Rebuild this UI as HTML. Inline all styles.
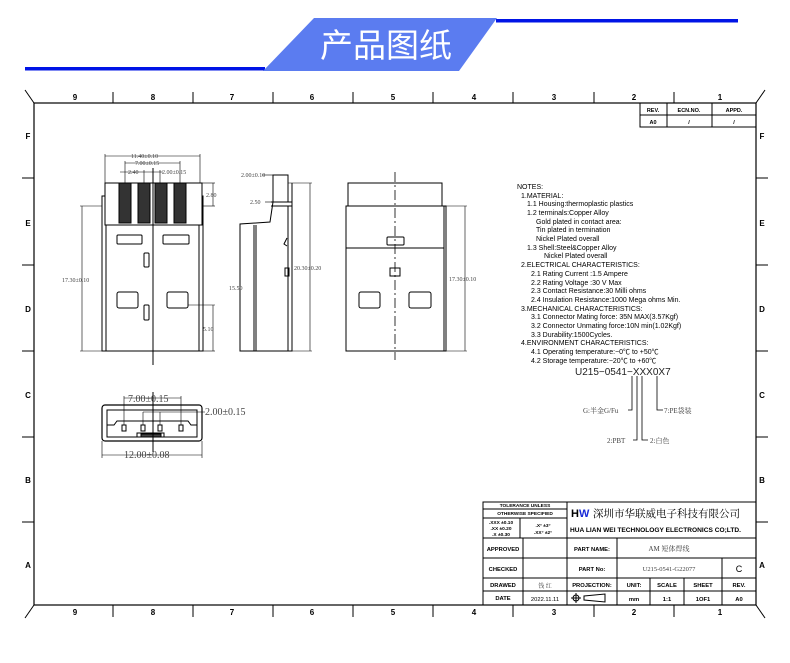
<!DOCTYPE html>
<html><head><meta charset="utf-8"><style>
body{margin:0;background:#fff;width:790px;height:663px;overflow:hidden}
svg{display:block}
text{font-family:"Liberation Sans","Noto Sans CJK SC",sans-serif;fill:#000}
.s{font-family:"Liberation Serif","Noto Serif CJK SC",serif;fill:#444}
</style></head><body>
<svg width="790" height="663" viewBox="0 0 790 663" xmlns="http://www.w3.org/2000/svg">
<rect x="25" y="67" width="240" height="3.5" fill="#0014e6"/>
<rect x="496" y="19" width="242" height="3.5" fill="#0014e6"/>
<polygon points="263,71 314,18 497,18 459,71" fill="#5b7cf0"/>
<text x="386" y="57" font-size="33" text-anchor="middle" style="fill:#fff;font-family:'Noto Sans CJK SC',sans-serif">产品图纸</text>

<g stroke="#000" fill="none" stroke-width="1">
<rect x="34" y="103" width="722" height="502" stroke-width="1.2"/>
<line x1="25" y1="90" x2="34" y2="103"/><line x1="765" y1="90" x2="756" y2="103"/>
<line x1="25" y1="618" x2="34" y2="605"/><line x1="765" y1="618" x2="756" y2="605"/>
<g stroke-width="1">
<line x1="113" y1="92" x2="113" y2="103"/><line x1="193" y1="92" x2="193" y2="103"/><line x1="273" y1="92" x2="273" y2="103"/><line x1="353" y1="92" x2="353" y2="103"/><line x1="433" y1="92" x2="433" y2="103"/><line x1="513" y1="92" x2="513" y2="103"/><line x1="594" y1="92" x2="594" y2="103"/><line x1="674" y1="92" x2="674" y2="103"/>
<line x1="113" y1="605" x2="113" y2="617"/><line x1="193" y1="605" x2="193" y2="617"/><line x1="273" y1="605" x2="273" y2="617"/><line x1="353" y1="605" x2="353" y2="617"/><line x1="433" y1="605" x2="433" y2="617"/><line x1="513" y1="605" x2="513" y2="617"/><line x1="594" y1="605" x2="594" y2="617"/><line x1="674" y1="605" x2="674" y2="617"/>
<line x1="22" y1="178" x2="34" y2="178"/><line x1="22" y1="265" x2="34" y2="265"/><line x1="22" y1="351" x2="34" y2="351"/><line x1="22" y1="437" x2="34" y2="437"/><line x1="22" y1="522" x2="34" y2="522"/>
<line x1="756" y1="178" x2="768" y2="178"/><line x1="756" y1="265" x2="768" y2="265"/><line x1="756" y1="351" x2="768" y2="351"/><line x1="756" y1="437" x2="768" y2="437"/><line x1="756" y1="522" x2="768" y2="522"/>
</g>
<rect x="640" y="103" width="116" height="24"/><line x1="640" y1="115" x2="756" y2="115"/>
<line x1="667" y1="103" x2="667" y2="127"/><line x1="712" y1="103" x2="712" y2="127"/>

<rect x="105" y="183" width="97" height="42"/>
<path d="M105 196 H102 V351 H203 V196 H202"/>
<line x1="106" y1="225" x2="106" y2="351"/><line x1="199" y1="225" x2="199" y2="351"/>
<line x1="153" y1="168" x2="153" y2="365"/>
<rect x="119" y="183" width="12" height="40" fill="#333"/><rect x="138" y="183" width="12" height="40" fill="#333"/>
<rect x="155" y="183" width="12" height="40" fill="#333"/><rect x="174" y="183" width="12" height="40" fill="#333"/>
<rect x="117" y="235" width="25" height="9" rx="1"/><rect x="163" y="235" width="26" height="9" rx="1"/>
<rect x="117" y="292" width="21" height="16" rx="2"/><rect x="167" y="292" width="21" height="16" rx="2"/>
<rect x="144" y="253" width="5" height="14" rx="1"/><rect x="144" y="305" width="5" height="15" rx="1"/>
<g stroke-width="0.6">
<line x1="105" y1="156" x2="200" y2="156"/><line x1="105" y1="154" x2="105" y2="183"/><line x1="200" y1="154" x2="200" y2="183"/>
<line x1="125" y1="163" x2="180" y2="163"/><line x1="125" y1="161" x2="125" y2="183"/><line x1="180" y1="161" x2="180" y2="183"/>
<line x1="120" y1="172" x2="163" y2="172"/><line x1="144" y1="170" x2="144" y2="183"/><line x1="160" y1="170" x2="160" y2="183"/>
<line x1="202" y1="183" x2="215" y2="183"/><line x1="202" y1="206" x2="215" y2="206"/><line x1="213" y1="183" x2="213" y2="206"/>
<line x1="80" y1="206" x2="102" y2="206"/><line x1="82" y1="206" x2="82" y2="351"/><line x1="80" y1="351" x2="102" y2="351"/>
<line x1="188" y1="305" x2="215" y2="305"/><line x1="213" y1="305" x2="213" y2="351"/><line x1="203" y1="351" x2="215" y2="351"/>
</g>

<rect x="273" y="175" width="15" height="27"/>
<path d="M273 202 L270 222 L240 224 V351 H292 V183"/>
<line x1="271" y1="202" x2="292" y2="202"/><line x1="271" y1="206" x2="292" y2="206"/>
<line x1="254" y1="225" x2="254" y2="351"/><line x1="256" y1="225" x2="256" y2="351"/>
<line x1="288" y1="206" x2="288" y2="351"/>
<path d="M287 238 L284 244 L287 246" /><rect x="285" y="268" width="4" height="8"/>
<g stroke-width="0.6">
<line x1="262" y1="175" x2="273" y2="175"/><line x1="265" y1="202" x2="273" y2="202"/>
<line x1="288" y1="183" x2="312" y2="183"/><line x1="310" y1="183" x2="310" y2="351"/><line x1="292" y1="351" x2="312" y2="351"/>
<line x1="240" y1="225" x2="240" y2="351"/>
</g>

<rect x="348" y="183" width="94" height="23"/>
<rect x="346" y="206" width="100" height="145"/><line x1="444" y1="206" x2="444" y2="351"/>
<line x1="346" y1="248" x2="444" y2="248"/>
<line x1="395" y1="172" x2="395" y2="360" stroke-dasharray="10,3,2,3" stroke-width="0.8"/>
<rect x="387" y="237" width="17" height="8" rx="1"/><rect x="390" y="268" width="10" height="8"/>
<rect x="359" y="292" width="21" height="16" rx="2"/><rect x="409" y="292" width="22" height="16" rx="2"/>
<g stroke-width="0.6"><line x1="446" y1="206" x2="467" y2="206"/><line x1="465" y1="206" x2="465" y2="351"/><line x1="446" y1="351" x2="467" y2="351"/></g>

<rect x="102" y="405" width="100" height="36" rx="3" stroke-width="1.2"/>
<path d="M107 410 H197 V437 H107 Z"/>
<path d="M107 425 H114 L117 421 H188 L191 425 H197"/>
<rect x="122" y="425" width="4" height="6"/><rect x="141" y="425" width="4" height="6"/><rect x="158" y="425" width="4" height="6"/><rect x="179" y="425" width="4" height="6"/>
<path d="M137 437 V433 H164 V437" /><rect x="141" y="434" width="20" height="3" fill="#444"/>
<line x1="153" y1="392" x2="153" y2="452"/>
<g stroke-width="0.6">
<line x1="124" y1="398" x2="181" y2="398"/><line x1="124" y1="396" x2="124" y2="425"/><line x1="181" y1="396" x2="181" y2="425"/>
<line x1="143" y1="412" x2="205" y2="412"/><line x1="143" y1="412" x2="143" y2="425"/><line x1="160" y1="412" x2="160" y2="425"/>
<line x1="102" y1="441" x2="102" y2="458"/><line x1="202" y1="441" x2="202" y2="458"/><line x1="102" y1="455" x2="202" y2="455"/>
</g>

<g stroke-width="0.8">
<path d="M632 376 V410 H628"/><path d="M637 376 V440 H633"/><path d="M642 376 V440 H648"/><path d="M657 376 V410 H663"/>
</g>

<g stroke-width="1">
<rect x="483" y="502" width="273" height="103"/>
<line x1="567" y1="502" x2="567" y2="605"/>
<line x1="483" y1="509" x2="567" y2="509"/><line x1="483" y1="518" x2="567" y2="518"/>
<line x1="520" y1="518" x2="520" y2="538"/>
<line x1="483" y1="538" x2="756" y2="538"/><line x1="483" y1="558" x2="756" y2="558"/>
<line x1="483" y1="578" x2="756" y2="578"/><line x1="483" y1="591" x2="756" y2="591"/>
<line x1="523" y1="538" x2="523" y2="605"/>
<line x1="617" y1="538" x2="617" y2="578"/><line x1="722" y1="558" x2="722" y2="578"/>
<line x1="617" y1="578" x2="617" y2="605"/><line x1="650" y1="578" x2="650" y2="605"/><line x1="684" y1="578" x2="684" y2="605"/><line x1="722" y1="578" x2="722" y2="605"/>
</g>
<circle cx="576" cy="598" r="3"/><line x1="571" y1="598" x2="581" y2="598"/><line x1="576" y1="593" x2="576" y2="603"/>
<path d="M584 596 L605 594 V602 L584 600 Z"/>
</g>

<g font-size="8" font-weight="bold" text-anchor="middle">
<text x="75" y="100">9</text><text x="153" y="100">8</text><text x="232" y="100">7</text><text x="312" y="100">6</text><text x="393" y="100">5</text><text x="474" y="100">4</text><text x="554" y="100">3</text><text x="634" y="100">2</text><text x="720" y="100">1</text>
<text x="75" y="615">9</text><text x="153" y="615">8</text><text x="232" y="615">7</text><text x="312" y="615">6</text><text x="393" y="615">5</text><text x="474" y="615">4</text><text x="554" y="615">3</text><text x="634" y="615">2</text><text x="720" y="615">1</text>
<text x="28" y="139">F</text><text x="28" y="226">E</text><text x="28" y="312">D</text><text x="28" y="398">C</text><text x="28" y="483">B</text><text x="28" y="568">A</text>
<text x="762" y="139">F</text><text x="762" y="226">E</text><text x="762" y="312">D</text><text x="762" y="398">C</text><text x="762" y="483">B</text><text x="762" y="568">A</text>
</g>
<g font-size="5.5" font-weight="bold" text-anchor="middle">
<text x="653" y="112">REV.</text><text x="689" y="112">ECN.NO.</text><text x="734" y="112">APPD.</text>
<text x="653" y="124">A0</text><text x="689" y="124">/</text><text x="734" y="124">/</text>
</g>

<g class="s" font-size="6">
<text x="131" y="158" class="s">11.40±0.10</text>
<text x="135" y="165" class="s">7.00±0.15</text>
<text x="128" y="174" class="s">2.40</text><text x="162" y="174" class="s">2.00±0.15</text>
<text x="206" y="197" class="s">2.80</text>
<text x="62" y="282" class="s">17.30±0.10</text>
<text x="203" y="331" class="s">5.10</text>
<text x="241" y="177" class="s">2.00±0.10</text>
<text x="250" y="204" class="s">2.50</text>
<text x="294" y="270" class="s">20.30±0.20</text>
<text x="229" y="290" class="s">15.50</text>
<text x="449" y="281" class="s">17.30±0.10</text>
</g>
<g class="s" font-size="10">
<text x="128" y="402" class="s">7.00±0.15</text>
<text x="205" y="415" class="s">2.00±0.15</text>
<text x="124" y="458" class="s">12.00±0.08</text>
</g>

<g font-size="7">
<text x="517" y="189">NOTES:</text>
<text x="521" y="198">1.MATERIAL:</text>
<text x="527" y="206">1.1  Housing:thermoplastic  plastics</text>
<text x="527" y="215">1.2  terminals:Copper  Alloy</text>
<text x="536" y="224">Gold  plated  in  contact  area:</text>
<text x="536" y="232">Tin  plated  in  termination</text>
<text x="536" y="241">Nickel  Plated  overall</text>
<text x="527" y="250">1.3  Shell:Steel&amp;Copper  Alloy</text>
<text x="544" y="258">Nickel  Plated  overall</text>
<text x="521" y="267">2.ELECTRICAL  CHARACTERISTICS:</text>
<text x="531" y="276">2.1  Rating  Current  :1.5  Ampere</text>
<text x="531" y="285">2.2  Rating  Voltage  :30  V  Max</text>
<text x="531" y="293">2.3  Contact  Resistance:30  Milli  ohms</text>
<text x="531" y="302">2.4  Insulation  Resistance:1000  Mega  ohms  Min.</text>
<text x="521" y="311">3.MECHANICAL  CHARACTERISTICS:</text>
<text x="531" y="319">3.1  Connector  Mating  force:  35N  MAX(3.57Kgf)</text>
<text x="531" y="328">3.2  Connector  Unmating  force:10N  min(1.02Kgf)</text>
<text x="531" y="337">3.3  Durability:1500Cycles.</text>
<text x="521" y="345">4.ENVIRONMENT  CHARACTERISTICS:</text>
<text x="531" y="354">4.1  Operating  temperature:−0℃  to  +50℃</text>
<text x="531" y="363">4.2  Storage  temperature:−20℃  to  +60℃</text>
</g>
<text x="575" y="375" font-size="10" style="fill:#222">U215−0541−XXX0X7</text>
<g class="s" font-size="7">
<text x="583" y="413" class="s">G:半金G/Fu</text>
<text x="664" y="413" class="s">7:PE袋装</text>
<text x="607" y="443" class="s">2:PBT</text>
<text x="650" y="443" class="s">2:白色</text>
</g>

<g font-size="4.8" font-weight="bold" text-anchor="middle">
<text x="525" y="507">TOLERANCE UNLESS</text><text x="525" y="515">OTHERWISE SPECIFIED</text>
<text x="501" y="524">.XXX ±0.10</text><text x="501" y="530">.XX  ±0.20</text><text x="501" y="536">.X   ±0.30</text>
<text x="543" y="527">.X°  ±3°</text><text x="543" y="534">.XX° ±2°</text>
</g>
<text x="571" y="517" font-size="11" font-weight="bold">H</text>
<text x="579" y="517" font-size="11" font-weight="bold" style="fill:#1a2bd8">W</text>
<text x="593" y="517" font-size="10.5" style="font-family:'Noto Serif CJK SC',serif">深圳市华联威电子科技有限公司</text>
<text x="570" y="532" font-size="6.6" font-weight="bold">HUA LIAN WEI TECHNOLOGY ELECTRONICS CO;LTD.</text>
<g font-size="5.8" font-weight="bold" text-anchor="middle">
<text x="503" y="551">APPROVED</text><text x="503" y="571">CHECKED</text><text x="503" y="587">DRAWED</text><text x="503" y="600">DATE</text>
<text x="592" y="551">PART NAME:</text><text x="592" y="571">PART No:</text><text x="592" y="587">PROJECTION:</text>
<text x="634" y="587">UNIT:</text><text x="667" y="587">SCALE</text><text x="703" y="587">SHEET</text><text x="739" y="587">REV.</text>
<text x="634" y="601">mm</text><text x="667" y="601">1:1</text><text x="703" y="601">1OF1</text><text x="739" y="601">A0</text>
<text x="545" y="601" font-weight="normal">2022.11.11</text>
</g>
<text x="545" y="588" font-size="6" text-anchor="middle" class="s">钱 红</text>
<text x="669" y="551" font-size="7" text-anchor="middle" class="s">AM 短体焊线</text>
<text x="669" y="571" font-size="6.5" text-anchor="middle" class="s">U215-0541-G22077</text>
<text x="739" y="572" font-size="9" text-anchor="middle">C</text>
</svg>
</body></html>
